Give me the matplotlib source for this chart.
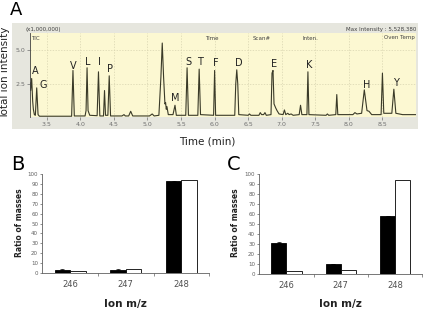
#! /usr/bin/env python3
"""
Chromatogram (A) and isotope ratio bars (B, C).
"""

import numpy as np
import matplotlib.pyplot as plt
from matplotlib.patches import Rectangle

# panel A: total ion trace (x1,000,000)
trace_time = [
    3.25, 3.26, 3.275, 3.29, 3.30, 3.315, 3.33, 3.35, 3.37, 3.39,
    3.45, 3.87, 3.89, 3.91, 4.07, 4.085, 4.10, 4.115, 4.14, 4.25,
    4.27, 4.29, 4.345, 4.36, 4.375, 4.41, 4.43, 4.45, 4.62, 4.65,
    4.67, 4.72, 4.75, 4.78, 5.03, 5.07, 5.10, 5.17, 5.20, 5.22,
    5.24, 5.26, 5.27, 5.28, 5.29, 5.31, 5.38, 5.41, 5.43, 5.57,
    5.59, 5.61, 5.75, 5.77, 5.79, 5.985, 6.00, 6.015, 6.30, 6.315,
    6.33, 6.345, 6.36, 6.50, 6.52, 6.54, 6.66, 6.68, 6.70, 6.73,
    6.75, 6.77, 6.84, 6.855, 6.87, 6.885, 6.91, 6.93, 6.96, 7.02,
    7.04, 7.06, 7.09, 7.11, 7.14, 7.17, 7.26, 7.28, 7.30, 7.375,
    7.39, 7.405, 7.66, 7.68, 7.70, 7.805, 7.82, 7.835, 8.06, 8.09,
    8.12, 8.19, 8.23, 8.27, 8.30, 8.34, 8.48, 8.50, 8.52, 8.64,
    8.67, 8.70, 8.80, 9.00,
]
trace_int = [
    2.6, 2.0, 2.9, 1.2, 0.6, 0.2, 0.15, 2.2, 0.2, 0.08,
    0.08, 0.08, 3.5, 0.1, 0.1, 0.5, 3.7, 0.5, 0.15, 0.12,
    3.4, 0.1, 0.1, 2.0, 0.15, 0.15, 3.1, 0.1, 0.1, 0.2,
    0.1, 0.1, 0.45, 0.1, 0.1, 0.25, 0.1, 0.15, 3.0, 5.55,
    3.0, 1.0, 1.1, 0.6, 0.8, 0.2, 0.2, 0.9, 0.15, 0.15,
    3.7, 0.15, 0.15, 3.6, 0.2, 0.15, 3.5, 0.15, 0.15, 2.5,
    3.55, 2.5, 0.2, 0.15, 0.25, 0.15, 0.15, 0.35, 0.2, 0.2,
    0.35, 0.15, 0.2, 3.3, 3.5, 1.0, 0.7, 0.5, 0.25, 0.2,
    0.55, 0.2, 0.3, 0.2, 0.25, 0.15, 0.2, 0.9, 0.2, 0.2,
    3.4, 0.2, 0.15, 0.25, 0.15, 0.2, 1.7, 0.2, 0.2, 0.35,
    0.25, 0.3, 2.05, 0.5, 0.45, 0.2, 0.2, 3.3, 0.3, 0.3,
    2.1, 0.3, 0.2, 0.2,
]

peak_names = ["A", "G", "V", "L", "I", "P", "M", "S", "T", "F", "D", "E", "K", "H", "Y"]
peak_label_time = [3.325, 3.45, 3.9, 4.11, 4.28, 4.44, 5.42, 5.605, 5.785,
                   6.015, 6.355, 6.88, 7.415, 8.265, 8.705]
peak_label_int = [3.43, 2.38, 3.85, 4.1, 4.1, 3.6, 1.43, 4.1, 4.1,
                  4.05, 4.05, 4.0, 3.88, 2.43, 2.6]

# panels B and C: ratio of masses per ion
ions = ["246", "247", "248"]
b_black = [3.5, 3.8, 92.3]
b_white = [2.8, 4.3, 93.8]
b_err = [0.4, 0.4, 0.6]
c_black = [31.5, 10.3, 58.0]
c_white = [3.0, 4.2, 94.0]
c_err = [0.5, 0.4, 0.4]

W, H = 423, 319


def fx(px):
    return px / W


def fy(py):
    return 1 - py / H


def plot_chromatogram(fig):
    """
    Panel A, styled like the instrument software
    """
    fig.patches.append(
        Rectangle((fx(12), fy(129.5)), fx(406), 106.5 / H, transform=fig.transFigure,
                  facecolor="#e6e6de", edgecolor="none", zorder=-5)
    )
    ax = fig.add_axes([fx(30), fy(117.3), fx(386), 84.3 / H])
    ax.set_zorder(2)
    ax.set_facecolor("#fcf8d2")
    ax.plot(trace_time, trace_int, color="#3a3a28", lw=0.8)
    ax.set_xlim(3.25, 9.0)
    ax.set_ylim(0, 6.3)
    ax.set_xticks(np.arange(3.5, 8.6, 0.5))
    ax.set_xticklabels([f"{v:.1f}" for v in np.arange(3.5, 8.6, 0.5)])
    ax.set_yticks([2.5, 5.0])
    ax.set_yticklabels(["2.5", "5.0"])
    ax.tick_params(labelsize=4.5, colors="#707070", length=2, width=0.5, pad=1.5)
    ax.grid(True, color="#d8d4b0", ls=(0, (2, 2)), lw=0.5)
    for side in ["top", "right", "bottom"]:
        ax.spines[side].set_visible(False)
    ax.spines["left"].set_color("#404040")
    ax.spines["left"].set_linewidth(0.6)
    for name, t, v in zip(peak_names, peak_label_time, peak_label_int):
        ax.text(t, v, name, ha="center", va="center", fontsize=7, color="#222222")

    small = dict(fontsize=4, color="#404040", zorder=5)
    fig.text(fx(25), fy(30), "(x1,000,000)", ha="left", va="center", **small)
    fig.text(fx(416), fy(30), "Max Intensity : 5,528,380", ha="right", va="center", **small)
    fig.text(fx(31), fy(38), "TIC", ha="left", va="center", **small)
    fig.text(fx(212), fy(38), "Time", ha="center", va="center", **small)
    fig.text(fx(262), fy(38), "Scan#", ha="center", va="center", **small)
    fig.text(fx(310), fy(38), "Inten.", ha="center", va="center", **small)
    fig.text(fx(415), fy(38), "Oven Temp", ha="right", va="center", **small)

    fig.text(fx(5), fy(73), "Total ion intensity", rotation=90, ha="center",
             va="center", fontsize=7.5, color="#222222")
    fig.text(fx(207), fy(142), "Time (min)", ha="center", va="center",
             fontsize=7.5, color="#222222")
    fig.text(fx(10), fy(15), "A", ha="left", va="baseline", fontsize=13)


def plot_ratios(fig, rect, black, white, err, ylabel_x, letter, letter_x):
    """
    Paired bars for one labelling condition
    """
    ax = fig.add_axes(rect)
    x = np.arange(len(ions))
    width = 0.28
    ax.bar(x - width / 2, black, width, color="black", edgecolor="black", lw=0.6,
           yerr=err, error_kw=dict(lw=0.5, capsize=1.2, capthick=0.5))
    ax.bar(x + width / 2, white, width, color="white", edgecolor="black", lw=0.6)
    ax.set_xlim(-0.5, 2.5)
    ax.set_ylim(0, 100)
    ax.set_yticks(np.arange(0, 101, 10))
    ax.set_xticks(x)
    ax.set_xticklabels(ions)
    ax.set_xticks([0.5, 1.5, 2.5], minor=True)
    ax.tick_params(axis="y", labelsize=4, colors="#606060", length=1.5, width=0.5, pad=1.5)
    ax.tick_params(axis="x", which="major", length=0, labelsize=6, labelcolor="#505050", pad=5)
    ax.tick_params(axis="x", which="minor", length=2.5, width=0.5, color="#606060")
    for side in ["top", "right"]:
        ax.spines[side].set_visible(False)
    for side in ["left", "bottom"]:
        ax.spines[side].set_color("#606060")
        ax.spines[side].set_linewidth(0.6)
    fig.text(fx(ylabel_x), fy(223), "Ratio of masses", rotation=90, ha="center",
             va="center", fontsize=5.5, fontweight="bold", color="#222222")
    center = rect[0] + rect[2] / 2
    fig.text(center, fy(304), "Ion m/z", ha="center", va="center", fontsize=7.5,
             fontweight="bold", color="#222222")
    fig.text(fx(letter_x), fy(170.5), letter, ha="left", va="baseline", fontsize=14)


def main():
    """
    Driver code
    """
    fig = plt.figure(figsize=(W / 100, H / 100), dpi=100)
    plot_chromatogram(fig)
    plot_ratios(fig, [fx(42.3), fy(273.3), fx(167), 99.6 / H],
                b_black, b_white, b_err, 19, "B", 11)
    plot_ratios(fig, [fx(259.3), fy(274.3), fx(163), 100.6 / H],
                c_black, c_white, c_err, 235.7, "C", 227)
    fig.savefig("out.png", dpi=100)


if __name__ == "__main__":
    main()
